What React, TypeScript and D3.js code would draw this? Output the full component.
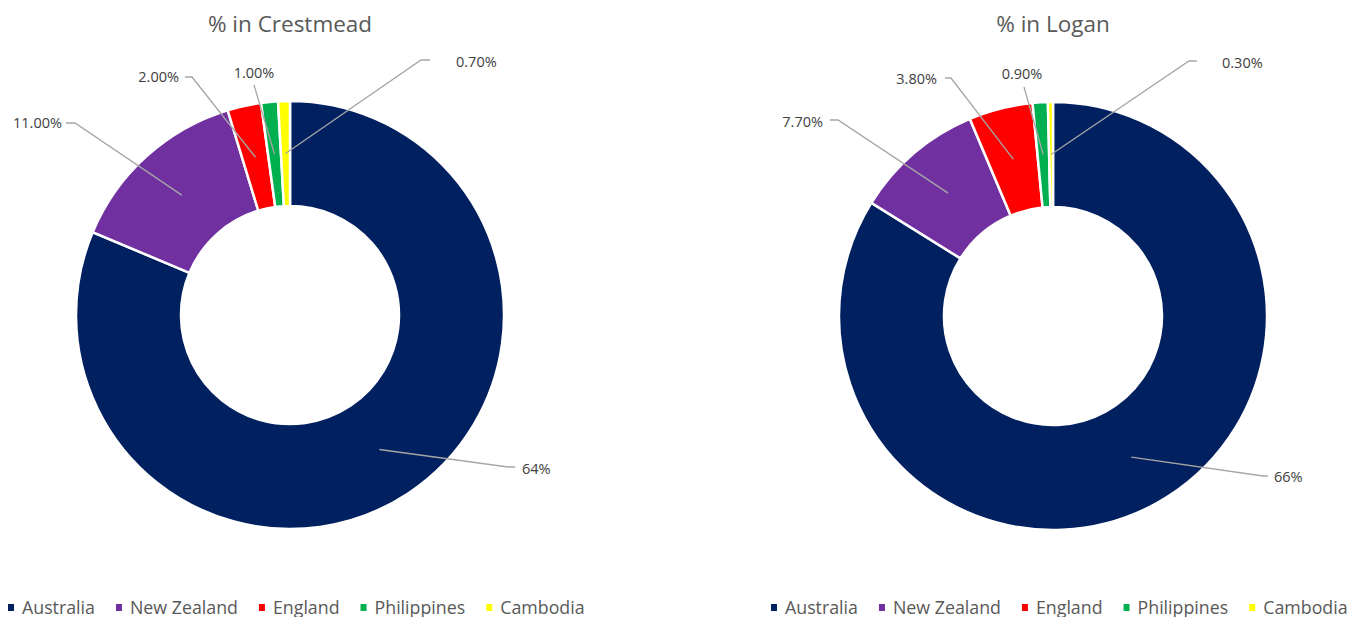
import React, { useEffect, useRef } from "react";
import * as d3 from "d3";

// chart data
const countries = ["Australia", "New Zealand", "England", "Philippines", "Cambodia"];
const crestmeadValues = [64, 11, 2, 1, 0.7];
const crestmeadLabels = ["64%", "11.00%", "2.00%", "1.00%", "0.70%"];
const loganValues = [66, 7.7, 3.8, 0.9, 0.3];
const loganLabels = ["66%", "7.70%", "3.80%", "0.90%", "0.30%"];
const colours = ["#002060", "#7030A0", "#FF0000", "#00B050", "#FFFF00"];

// label placement, relative to donut centre (dragged labels in the original)
// [textX, textY, anchor, elbowX1, elbowX2, elbowY]
type LabelPos = [number, number, string, number, number, number];
const crestmeadLabelPos: LabelPos[] = [
  [232, 154, "start", 218, 225, 152],
  [-228, -192, "end", -215, -224, -192],
  [-111, -238, "end", -98, -105, -238],
  [-36, -242, "middle", -36, -36, -230],
  [166, -253, "start", 131, 140, -255],
];
const loganLabelPos: LabelPos[] = [
  [221, 161, "start", 210, 215, 160],
  [-230, -194, "end", -215, -223, -196],
  [-116, -237, "end", -102, -108, -238],
  [-31, -242, "middle", -29, -29, -229],
  [169, -253, "start", 136, 144, -255],
];

const WIDTH = 1367;
const HEIGHT = 617;
const OUTER_R = 214;
const INNER_R = 109;
const FONT = "'Open Sans', 'Liberation Sans', sans-serif";

const drawDonut = (svg, cx, cy, title, values, labels, labelPos) => {
  const g = svg.append("g").attr("transform", `translate(${cx},${cy})`);

  svg.append("text")
    .attr("x", cx)
    .attr("y", 32)
    .attr("text-anchor", "middle")
    .style("font-family", FONT)
    .style("font-size", "22.5px")
    .style("fill", "#595959")
    .text(title);

  const pie = d3.pie().sort(null).startAngle(0).endAngle(2 * Math.PI);
  const arcs = pie(values);
  const arc = d3.arc().innerRadius(INNER_R).outerRadius(OUTER_R);
  const midArc = d3.arc().innerRadius((INNER_R + OUTER_R) / 2).outerRadius((INNER_R + OUTER_R) / 2);

  g.selectAll("path.slice")
    .data(arcs)
    .enter()
    .append("path")
    .attr("class", "slice")
    .attr("d", arc)
    .attr("fill", (d, i) => colours[i])
    .attr("stroke", "white")
    .attr("stroke-width", 2.5);

  arcs.forEach((a, i) => {
    const [px, py] = midArc.centroid(a);
    const [tx, ty, anchor, ex1, ex2, ey] = labelPos[i];
    const pts = anchor === "middle" ? [[px, py], [ex1, ey]] : [[px, py], [ex1, ey], [ex2, ey]];
    g.append("path")
      .attr("d", d3.line()(pts))
      .attr("fill", "none")
      .attr("stroke", "#A6A6A6")
      .attr("stroke-width", 1.3);
    g.append("text")
      .attr("x", tx)
      .attr("y", ty + 5)
      .attr("text-anchor", anchor)
      .style("font-family", FONT)
      .style("font-size", "14.5px")
      .style("fill", "#404040")
      .text(labels[i]);
  });

  // legend
  let x = cx - 282;
  countries.forEach((c, i) => {
    svg.append("rect")
      .attr("x", x)
      .attr("y", 604)
      .attr("width", 6)
      .attr("height", 7)
      .attr("fill", colours[i]);
    const t = svg.append("text")
      .attr("x", x + 14)
      .attr("y", 613.5)
      .style("font-family", FONT)
      .style("font-size", "17.8px")
      .style("fill", "#595959")
      .text(c);
    x += 14 + t.node().getComputedTextLength() + 21;
  });
};

const App = () => {
  const svgRef = useRef(null);

  useEffect(() => {
    const svg = d3.select(svgRef.current);
    svg.selectAll("*").remove();
    drawDonut(svg, 290, 315, "% in Crestmead", crestmeadValues, crestmeadLabels, crestmeadLabelPos);
    drawDonut(svg, 1053, 316, "% in Logan", loganValues, loganLabels, loganLabelPos);
  }, []);

  return (
    <svg
      ref={svgRef}
      width={WIDTH}
      height={HEIGHT}
      style={{ position: "absolute", left: 0, top: 0, background: "white" }}
    />
  );
};

export default App;
